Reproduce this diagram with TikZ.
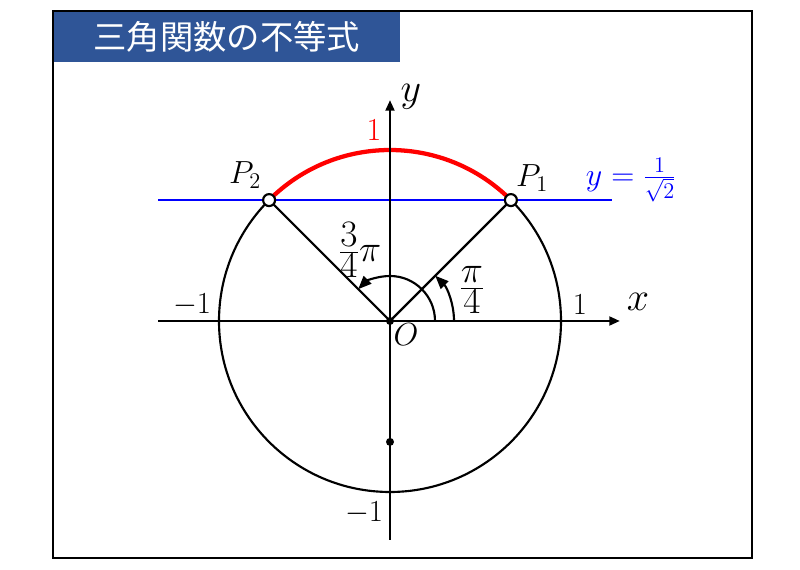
\RequirePackage{fix-cm}
\documentclass[tikz,border=0pt]{standalone}
\usepackage{fontspec}
\newfontfamily\cjk{Noto Sans CJK JP}
\usetikzlibrary{arrows.meta}
\definecolor{titleblue}{RGB}{47,85,151}
\definecolor{lineblue}{RGB}{0,0,255}
\newcommand{\tightfrac}[2]{{\textstyle\frac{\textstyle #1}{\textstyle #2}}}
\begin{document}
\begin{tikzpicture}[x=0.75pt,y=0.75pt,
  axis/.style={line width=2pt,-{Triangle[length=8pt,width=6.5pt]}},
  thinline/.style={line width=1.6pt},
  angarc/.style={line width=1.6pt,-{Triangle[length=10pt,width=8pt]}},
  bigmath/.style={inner sep=0pt,font=\fontsize{30}{30}\selectfont},
  midmath/.style={inner sep=0pt,font=\fontsize{24}{24}\selectfont},
  fracmath/.style={inner sep=0pt,font=\fontsize{28}{28}\selectfont},
  nummath/.style={inner sep=0pt,font=\fontsize{23}{23}\selectfont}]
\useasboundingbox (0,0) rectangle (800,570);
% title
\node[fill=titleblue, minimum width=260.25pt, minimum height=38.25pt, anchor=north west, inner sep=0pt,
  text=white, font=\cjk\fontsize{25}{25}\selectfont] (title) at (53,559) {三角関数の不等式};
\draw[line width=1.5pt] (53,12) rectangle (752,559);
% coordinates
\coordinate (O) at (390,249);
\coordinate (P1) at (510.9,369.9);
\coordinate (P2) at (269.1,369.9);
\coordinate (BL) at (158,369.9);
\coordinate (BR) at (612,369.9);
\coordinate (XL) at (158,249);
\coordinate (XR) at (620,249);
\coordinate (YB) at (390,30);
\coordinate (YT) at (390,470);
\coordinate (D) at (390,128.1);
\coordinate (A1) at (454,249);
\coordinate (A2) at (435,249);
% blue line
\draw[lineblue, line width=1.6pt] (BL) -- (BR);
% circle
\draw[thinline] (O) circle (171);
% red arc
\draw[red, line width=3.2pt] (P1) arc[start angle=45, end angle=135, radius=171];
% axes
\draw[axis] (XL) -- (XR);
\draw[axis] (YB) -- (YT);
% radii
\draw[thinline] (O) -- (P1);
\draw[thinline] (O) -- (P2);
% angle arcs
\draw[angarc] (A1) arc[start angle=0, end angle=45, radius=64];
\draw[angarc] (A2) arc[start angle=0, end angle=135, radius=45];
% dots
\fill (O) circle (4);
\fill (D) circle (4);
\draw[thinline, fill=white] (P1) circle (6);
\draw[thinline, fill=white] (P2) circle (6);
% labels
\node[bigmath] (ylab) at (411,473) {$y$};
\node[bigmath] (xlab) at (638,268) {$x$};
\node[nummath, font=\fontsize{24}{24}\selectfont, text=red] (one) at (374,440) {$1$};
\node[midmath] (p2lab) at (245,395) {$P_2$};
\node[midmath] (p1lab) at (532,392) {$P_1$};
\node[midmath, text=lineblue] (eq) at (631,390) {$y=\frac{1}{\sqrt{2}}$};
\node[fracmath] (ang2) at (360,320) {$\tightfrac{3}{4}\pi$};
\node[fracmath] (ang1) at (472,280) {$\tightfrac{\pi}{4}$};
\node[nummath] (m1x) at (192,265) {$-1$};
\node[nummath] (p1x) at (580,265) {$1$};
\node[midmath] (olab) at (406,235) {$O$};
\node[nummath] (m1y) at (364,57) {$-1$};
\end{tikzpicture}
\end{document}
